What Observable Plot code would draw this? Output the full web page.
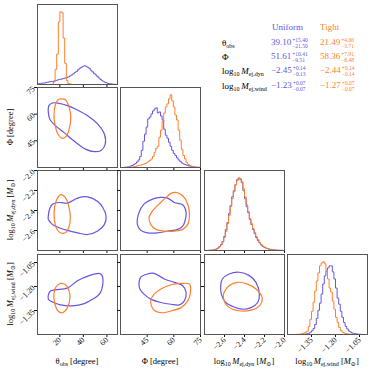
<!DOCTYPE html>
<html><head><meta charset="utf-8">
<script src="https://cdn.jsdelivr.net/npm/d3@7"></script>
<script src="https://cdn.jsdelivr.net/npm/@observablehq/plot@0.6"></script>
<style>
body{margin:0;background:#fff;}
#root{position:relative;width:374px;height:371px;font-family:"Liberation Serif","DejaVu Serif",serif;overflow:hidden;background:#fff;}
.panel{position:absolute;}
.lab{position:absolute;font-size:8.5px;white-space:nowrap;color:#000;line-height:1;}
.lab sub{font-size:6px;vertical-align:-2px;line-height:0;}
.cell{position:absolute;font-size:9px;white-space:nowrap;line-height:1;}
.cell sub{font-size:6px;vertical-align:-2px;line-height:0;}
.pm{display:inline-block;vertical-align:middle;font-size:5.5px;line-height:5.5px;margin-left:1px;}
.pm span{display:block;}
</style></head><body><div id="root"></div><script>
// ranges and ticks
const thetaRange = [1, 69];
const phiRange = [30, 75];
const dynRange = [-2.8, -2.0];
const windRange = [-1.5, -1.0];
const thetaTicks = [20, 40, 60];
const phiTicks = [45, 60, 75];
const dynTicks = [-2.6, -2.4, -2.2, -2.0];
const windTicks = [-1.35, -1.20, -1.05];
const seriesNames = ["Uniform", "Tight"];
const seriesColors = ["#6655e0", "#ff7f2e"];

// histograms (50 bins over each range)
const histThetaU = [0.5,1,1.2,1.5,1.4,2,2.2,2.6,3,2.8, 3.5,4,4.3,5,5.2,5.5,6,6.5,7,7.5, 8.5,9.5,10.5,12,13,14.5,16,17,18,18.5, 18,17,16,14,12.5,11,9.5,8,6.5,5, 3.8,2.8,2,1.5,1,0.7,0.5,0.3,0.2,0.1];
const histThetaT = [0,0,0,0,0,0,0,0,0,0.3, 2.5,15,30,62,72,71,46,21,4,1, 0.5,0.2,0,0,0,0,0,0,0,0, 0,0,0,0,0,0,0,0,0,0, 0,0,0,0,0,0,0,0,0,0];
const histPhiU = [0,0,0.2,0.3,0.5,0.7,1.5,2,3,4, 5.5,7.5,11,17,26,33,40,48,50,53, 56,58,59,54,55,51,47,38,32,29, 25,21,17,14,12,9.5,7.5,6,4.5,3.5, 3,2.2,1.7,1.3,1,0.7,0.5,0.3,0.2,0.1];
const histPhiT = [0,0,0,0.1,0.1,0.2,0.3,0.5,0.7,1, 1.5,2,2.3,2.8,3.3,4,4.7,5.7,7,8.5, 11,15,19,21,30,37,46,54,60,63, 68,72,66,60,52,47,37,27,18,12, 8.5,5,3,2,1.2,0.8,0.4,0.2,0.1,0];
const histDynU = [0,0,0.1,0.2,0.3,0.5,1,1.5,2.5,4, 6,9,14,21,28,37,45,54,60,66, 71,72,72,68,60,52,44,38,31,26, 21,17,13,10,7.5,5.5,4,3.2,2.5,1.8, 1.3,1,0.7,0.5,0.4,0.3,0.2,0.1,0.1,0];
const histDynT = [0,0,0.1,0.2,0.3,0.4,0.8,1.3,2.2,3.5, 5.5,8.5,13,19,27,35,44,52,59,66, 70,73,71,69,62,54,46,39,32,27, 22,18,14,11,8,6,4.5,3.5,2.6,2, 1.5,1.1,0.8,0.6,0.4,0.3,0.2,0.2,0.1,0];
const histWindU = [0,0,0,0,0,0,0,0,0.1,0.2, 0.3,0.5,0.7,1.2,2.3,3.8,6,10,16,24, 31,40,50,58,63,66,68,68,62,55, 46,36,30,23,17,12,8,5.5,3.5,2.5, 1.5,1.2,0.8,0.5,0.3,0.2,0.1,0,0,0];
const histWindT = [0,0,0,0,0,0.1,0.2,0.3,0.5,0.8, 1.5,2.3,3.3,8,15,23,32,43,53,61, 68,71,72,70,64,55,46,42,33,25, 17,12,7,4,2.3,1.5,1,0.6,0.4,0.2, 0.1,0,0,0,0,0,0,0,0,0];

// contours [x, y]
const contThetaPhiU = [[10.7,64.8],[13.6,66.3],[19.3,66.1],[26.5,64.8],[35.0,62.3],[43.6,59.1],[52.2,54.4],[57.9,48.7],[58.5,43.0],[55.0,39.6],[49.3,38.9],[42.2,40.2],[32.1,44.9],[23.6,49.6],[16.4,53.4],[11.5,57.2],[10.2,61.0]];
const contThetaPhiT = [[20.7,68.6],[25.0,68.0],[27.9,63.8],[29.3,58.2],[27.9,51.5],[25.0,47.2],[22.2,46.4],[18.4,48.7],[15.8,54.4],[15.0,60.1],[16.4,65.7],[18.4,68.0]];
const contThetaDynU = [[10.2,-2.455],[11.2,-2.387],[13.6,-2.337],[19.3,-2.320],[26.4,-2.327],[30.7,-2.303],[35.0,-2.276],[43.6,-2.263],[52.2,-2.310],[56.5,-2.370],[59.3,-2.455],[57.9,-2.539],[52.2,-2.606],[43.6,-2.640],[35.0,-2.623],[26.4,-2.599],[19.3,-2.572],[13.6,-2.539],[10.2,-2.488]];
const contThetaDynT = [[20.9,-2.242],[24.6,-2.269],[27.5,-2.354],[28.9,-2.471],[27.5,-2.572],[24.6,-2.623],[20.3,-2.623],[16.9,-2.572],[15.2,-2.471],[15.5,-2.370],[17.5,-2.286]];
const contThetaWindU = [[10.2,-1.279],[11.6,-1.231],[15.9,-1.221],[26.4,-1.210],[35.0,-1.164],[45.0,-1.132],[53.6,-1.118],[55.9,-1.132],[56.5,-1.185],[53.6,-1.248],[47.9,-1.279],[40.7,-1.307],[30.7,-1.321],[20.6,-1.315],[14.9,-1.300]];
const contThetaWindT = [[20.6,-1.181],[24.9,-1.189],[27.8,-1.227],[28.6,-1.269],[26.4,-1.332],[22.1,-1.364],[18.4,-1.353],[15.5,-1.300],[14.9,-1.248],[16.4,-1.206]];
const contPhiDynU = [[39.5,-2.539],[40.4,-2.421],[43.2,-2.337],[48.0,-2.286],[52.7,-2.269],[56.5,-2.276],[60.3,-2.320],[65.0,-2.343],[66.9,-2.421],[66.3,-2.505],[65.0,-2.556],[62.2,-2.589],[56.5,-2.606],[50.8,-2.623],[45.1,-2.623],[41.4,-2.599]];
const contPhiDynT = [[54.6,-2.286],[58.4,-2.229],[61.2,-2.219],[65.0,-2.253],[67.8,-2.337],[68.8,-2.438],[67.8,-2.539],[65.0,-2.589],[60.3,-2.606],[54.6,-2.606],[49.9,-2.589],[47.0,-2.539],[46.1,-2.471],[48.0,-2.404],[51.7,-2.337]];
const contPhiWindU = [[40.4,-1.185],[41.3,-1.143],[45.1,-1.122],[48.9,-1.118],[54.6,-1.153],[60.3,-1.174],[65.0,-1.195],[66.9,-1.237],[65.9,-1.290],[63.1,-1.315],[58.4,-1.311],[52.7,-1.300],[47.0,-1.279],[43.2,-1.248],[40.9,-1.216]];
const contPhiWindT = [[47.0,-1.290],[48.9,-1.248],[52.7,-1.216],[58.4,-1.189],[64.1,-1.181],[68.8,-1.185],[69.4,-1.237],[67.8,-1.290],[64.1,-1.332],[58.4,-1.353],[53.6,-1.364],[48.9,-1.348],[47.4,-1.321]];
const contDynWindU = [[-2.638,-1.195],[-2.621,-1.153],[-2.554,-1.122],[-2.453,-1.111],[-2.352,-1.132],[-2.285,-1.174],[-2.251,-1.248],[-2.268,-1.300],[-2.335,-1.332],[-2.419,-1.342],[-2.504,-1.328],[-2.588,-1.300],[-2.632,-1.248]];
const contDynWindT = [[-2.605,-1.237],[-2.554,-1.195],[-2.470,-1.174],[-2.369,-1.185],[-2.285,-1.216],[-2.224,-1.269],[-2.251,-1.321],[-2.335,-1.348],[-2.436,-1.353],[-2.520,-1.342],[-2.588,-1.311],[-2.611,-1.269]];

// summary table
const tableLabels = ["θ<sub>obs</sub>", "Φ", "log<sub>10</sub>&thinsp;<i>M</i><sub>ej,dyn</sub>", "log<sub>10</sub>&thinsp;<i>M</i><sub>ej,wind</sub>"];
const uniformMed = ["39.10","51.61","−2.45","−1.23"];
const uniformPlus = ["15.40","10.41","0.14","0.07"];
const uniformMinus = ["21.50","9.51","0.13","0.07"];
const tightMed = ["21.49","58.36","−2.44","−1.27"];
const tightPlus = ["4.06","7.91","0.14","0.07"];
const tightMinus = ["3.71","8.48","0.14","0.07"];

// axis titles
const axisTitles = ["θ<sub>obs</sub> [degree]", "Φ [degree]", "log<sub>10</sub>&thinsp;<i>M</i><sub>ej,dyn</sub> [<i>M</i><sub>⊙</sub>]", "log<sub>10</sub>&thinsp;<i>M</i><sub>ej,wind</sub> [<i>M</i><sub>⊙</sub>]"];

// ---- layout ----
const root = document.getElementById("root");
const colX = [37, 120, 204, 287];
const rowY = [4, 87, 170, 254];
const S = 80;
const ranges = [thetaRange, phiRange, dynRange, windRange];
const ticks = [thetaTicks, phiTicks, dynTicks, windTicks];
const fmts = [d3.format("d"), d3.format("d"), d3.format(".1f"), d3.format(".2f")];
const hists = [[histThetaU, histThetaT],[histPhiU, histPhiT],[histDynU, histDynT],[histWindU, histWindT]];
const conts = {
  "1,0": [contThetaPhiU, contThetaPhiT],
  "2,0": [contThetaDynU, contThetaDynT],
  "3,0": [contThetaWindU, contThetaWindT],
  "2,1": [contPhiDynU, contPhiDynT],
  "3,1": [contPhiWindU, contPhiWindT],
  "3,2": [contDynWindU, contDynWindT]
};

function stepData(counts, range) {
  const n = counts.length;
  const w = (range[1] - range[0]) / n;
  const pts = [{x: range[0], y: 0}];
  counts.forEach((c, i) => pts.push({x: range[0] + i * w, y: c}));
  pts.push({x: range[1], y: counts[n - 1]});
  pts.push({x: range[1], y: 0});
  return pts;
}

const style = {background: "transparent", overflow: "visible", fontSize: "8px", fontFamily: "Liberation Serif, DejaVu Serif, serif", color: "#111"};

for (let r = 0; r < 4; r++) {
  for (let c = 0; c <= r; c++) {
    const bottom = r === 3;
    const xOpt = {domain: ranges[c], ticks: ticks[c], tickSize: 3, tickPadding: 1, tickRotate: -45, label: null,
      tickFormat: bottom ? fmts[c] : () => ""};
    let marks = [];
    let yOpt;
    if (r === c) {
      const hs = hists[c];
      const mx = d3.max([...hs[0], ...hs[1]]);
      yOpt = {domain: [0, mx * 1.1], axis: null};
      hs.forEach((h, k) => marks.push(Plot.line(stepData(h, ranges[c]), {x: "x", y: "y", curve: "step-after", stroke: seriesColors[k], strokeWidth: 1})));
    } else {
      yOpt = {domain: ranges[r], ticks: ticks[r], tickSize: 3, tickPadding: 1, tickRotate: -45, label: null,
        tickFormat: c === 0 ? fmts[r] : () => ""};
      const cs = conts[r + "," + c];
      cs.forEach((pts, k) => marks.push(Plot.line(pts, {x: d => d[0], y: d => d[1], curve: "catmull-rom-closed", stroke: seriesColors[k], strokeWidth: 1.2})));
    }
    marks.push(Plot.frame({stroke: "#555", strokeWidth: 1}));
    const svg = Plot.plot({width: S, height: S, marginLeft: 0, marginRight: 0, marginTop: 0, marginBottom: 0,
      x: xOpt, y: yOpt, style, marks});
    svg.classList.add("panel");
    svg.style.left = colX[c] + "px";
    svg.style.top = rowY[r] + "px";
    svg.style.position = "absolute";
    root.appendChild(svg);
  }
}

// axis titles
axisTitles.forEach((t, i) => {
  const d = document.createElement("div");
  d.className = "lab";
  d.innerHTML = t;
  d.style.left = (colX[i] + S / 2) + "px";
  d.style.top = "361px";
  d.style.transform = "translate(-50%,-50%)";
  root.appendChild(d);
  if (i > 0) {
    const e = document.createElement("div");
    e.className = "lab";
    e.innerHTML = t;
    e.style.left = "10px";
    e.style.top = (rowY[i] + S / 2) + "px";
    e.style.transform = "translate(-50%,-50%) rotate(-90deg)";
    root.appendChild(e);
  }
});

// table
function cell(html, x, y, color) {
  const d = document.createElement("div");
  d.className = "cell";
  d.innerHTML = html;
  d.style.left = x + "px";
  d.style.top = y + "px";
  d.style.transform = "translateY(-50%)";
  if (color) d.style.color = color;
  root.appendChild(d);
}
cell(seriesNames[0], 272, 27, seriesColors[0]);
cell(seriesNames[1], 320, 27, seriesColors[1]);
const rowCY = [43, 57, 71, 86];
tableLabels.forEach((t, i) => {
  cell(t, 222, rowCY[i], "#000");
  cell(`${uniformMed[i]}<span class="pm"><span>+${uniformPlus[i]}</span><span>−${uniformMinus[i]}</span></span>`, 271, rowCY[i], seriesColors[0]);
  cell(`${tightMed[i]}<span class="pm"><span>+${tightPlus[i]}</span><span>−${tightMinus[i]}</span></span>`, 320, rowCY[i], seriesColors[1]);
});
</script></body></html>
